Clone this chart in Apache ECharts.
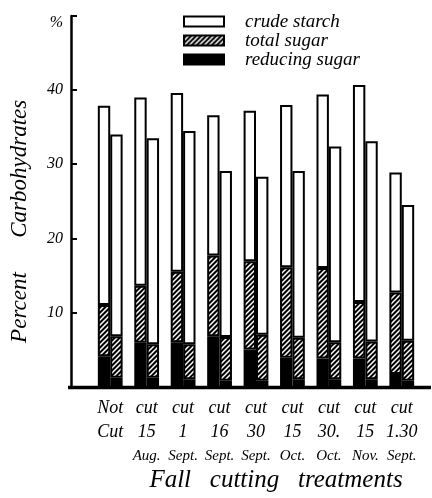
<!DOCTYPE html>
<html><head><meta charset="utf-8">
<script src="https://cdn.jsdelivr.net/npm/echarts@6/dist/echarts.min.js"></script>
<style>html,body{margin:0;padding:0;background:#fff}#c{width:432px;height:498px}</style>
</head><body><div id="c"></div>
<script>
// x labels (three handwritten lines)
const labelLine1 = ['Not','cut','cut','cut','cut','cut','cut','cut','cut'];
const labelLine2 = ['Cut','15','1','16','30','15','30.','15','1.30'];
const labelLine3 = ['','Aug.','Sept.','Sept.','Sept.','Oct.','Oct.','Nov.','Sept.'];
// y tick labels
const yTickLabels = {10:'10',20:'20',30:'30',40:'40',50:'%'};
// left bar of each pair
const reducingL = [4.1, 5.9, 6.0, 6.8, 5.0, 3.9, 3.8, 3.8, 1.7];
const totalSugarL = [11.0, 13.6, 15.5, 17.7, 16.9, 16.1, 16.0, 11.4, 12.7];
const starchL = [26.9, 25.4, 24.1, 18.9, 20.3, 21.9, 23.4, 29.3, 16.2];
// right bar of each pair
const reducingR = [1.2, 1.2, 1.0, 0.8, 0.8, 1.0, 1.0, 1.0, 0.8];
const totalSugarR = [6.8, 5.7, 5.7, 6.7, 7.0, 6.6, 6.0, 6.1, 6.2];
const starchR = [27.2, 27.8, 28.8, 22.4, 21.3, 22.5, 26.4, 27.0, 18.3];

const categories = labelLine1.map((a,i)=>a+'|'+labelLine2[i]+'|'+labelLine3[i]);

// hatch pattern: white diagonal stripes on black
const pc = document.createElement('canvas');
pc.width = 5; pc.height = 5;
const g = pc.getContext('2d');
g.fillStyle = '#000'; g.fillRect(0,0,5,5);
g.strokeStyle = '#fff'; g.lineWidth = 1.5;
g.beginPath();
g.moveTo(-1,6); g.lineTo(6,-1);
g.moveTo(-1,1); g.lineTo(1,-1);
g.moveTo(4,6); g.lineTo(6,4);
g.stroke();
const hatch = {image: pc, repeat: 'repeat'};

const FONT = 'Liberation Serif';
const border = {borderColor:'#000', borderWidth:2};
function mk(name, stack, data, color){
  return {name, type:'bar', stack, data, barGap:'0%', barCategoryGap:'32%',
    itemStyle:Object.assign({color}, border), emphasis:{disabled:true}, animation:false};
}
const diffL = totalSugarL.map((t,i)=>+(t-reducingL[i]).toFixed(2));
const diffR = totalSugarR.map((t,i)=>+(t-reducingR[i]).toFixed(2));

const chart = echarts.init(document.getElementById('c'));
chart.setOption({
  animation:false,
  backgroundColor:'#fff',
  grid:{left:90, right:12, top:16, bottom:107},
  legend:{
    left:178, top:7, orient:'vertical', itemWidth:40, itemHeight:10, itemGap:0,
    icon:'rect', data:['crude starch','total sugar','reducing sugar'],
    textStyle:{fontFamily:FONT, fontStyle:'italic', fontSize:19, lineHeight:18, color:'#000', padding:[0,0,0,16]},
    selectedMode:false
  },
  xAxis:{
    type:'category', data:categories,
    axisLine:{show:false}, axisTick:{show:false},
    name:'Fall   cutting   treatments', nameLocation:'middle', nameGap:80,
    nameTextStyle:{fontFamily:FONT, fontStyle:'italic', fontSize:25, color:'#000', padding:[0,0,0,40]},
    axisLabel:{
      interval:0, margin:10,
      formatter:(v)=>{const p=v.split('|'); return '{a|'+p[0]+'}\n{a|'+p[1]+'}\n{b|'+p[2]+'}';},
      rich:{
        a:{fontFamily:FONT, fontStyle:'italic', fontSize:18, lineHeight:24, color:'#000'},
        b:{fontFamily:FONT, fontStyle:'italic', fontSize:15, lineHeight:22, color:'#000'}
      }
    }
  },
  yAxis:{
    type:'value', min:0, max:50, interval:10, offset:21,
    splitLine:{show:false},
    axisLine:{show:true, lineStyle:{color:'#000', width:2.5}},
    axisTick:{show:true, inside:true, length:6, lineStyle:{color:'#000', width:2}},
    axisLabel:{margin:8, fontFamily:FONT, fontStyle:'italic', fontSize:16, color:'#000',
      formatter:(v)=>v===50?'{p|%}':(yTickLabels[v]||''),
      rich:{p:{fontFamily:FONT, fontStyle:'italic', fontSize:16, color:'#000', padding:[14,0,0,0]}}},
    name:'Percent      Carbohydrates', nameLocation:'middle', nameGap:40,
    nameTextStyle:{fontFamily:FONT, fontStyle:'italic', fontSize:23, color:'#000', padding:[0,40,0,0]}
  },
  series:[
    mk('reducing sugar','L',reducingL,'#000'),
    mk('total sugar','L',diffL,hatch),
    mk('crude starch','L',starchL,'#fff'),
    mk('reducing sugar','R',reducingR,'#000'),
    mk('total sugar','R',diffR,hatch),
    mk('crude starch','R',starchR,'#fff')
  ]
});
const y0 = chart.convertToPixel({yAxisIndex:0}, 0);
chart.setOption({graphic:[{type:'line', shape:{x1:68, y1:y0+1, x2:431, y2:y0+1}, style:{stroke:'#000', lineWidth:3.5}, z:100}]});
</script></body></html>
